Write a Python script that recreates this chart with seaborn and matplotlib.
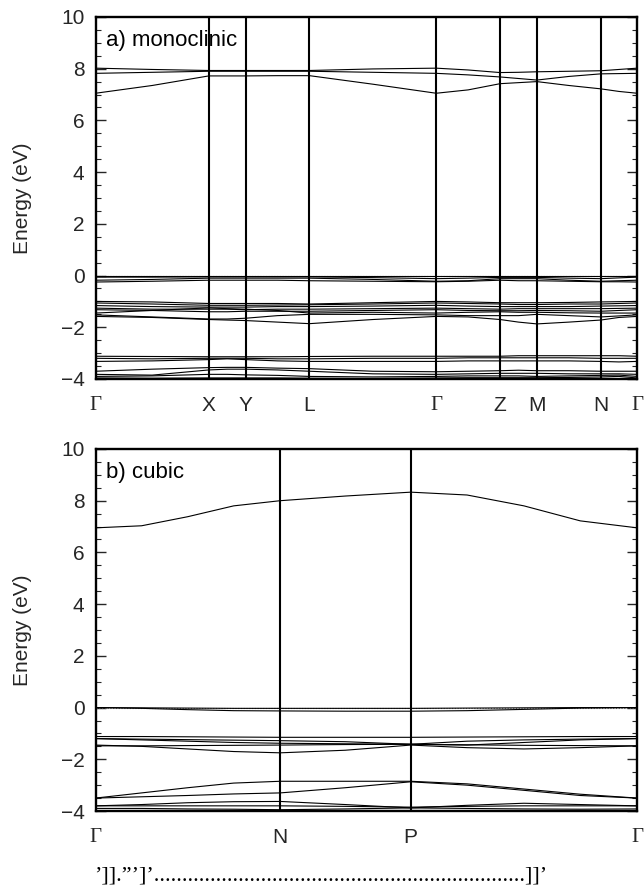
import numpy as np
import pandas as pd
import matplotlib
matplotlib.use("Agg")
import matplotlib.pyplot as plt
import seaborn as sns
from matplotlib.ticker import MultipleLocator

# ---------------- data ----------------
# panel a) monoclinic : k-path positions (high-symmetry points + midpoints)
mono_k = [0.0, 0.1045, 0.209, 0.243, 0.277, 0.336, 0.395, 0.512, 0.629,
          0.688, 0.747, 0.781, 0.815, 0.874, 0.933, 0.9665, 1.0]
mono_ticks = [0.0, 0.209, 0.277, 0.395, 0.629, 0.747, 0.815, 0.933, 1.0]
mono_labels = ["Γ", "X", "Y", "L", "Γ", "Z", "M", "N", "Γ"]

mono_c1 = [7.05, 7.35, 7.72, 7.72, 7.72, 7.73, 7.73, 7.40, 7.05, 7.18, 7.42, 7.46, 7.50, 7.35, 7.22, 7.12, 7.05]
mono_c2 = [7.82, 7.86, 7.90, 7.90, 7.90, 7.90, 7.90, 7.86, 7.82, 7.76, 7.68, 7.62, 7.56, 7.70, 7.80, 7.81, 7.82]
mono_c3 = [8.02, 7.97, 7.93, 7.93, 7.93, 7.93, 7.93, 7.99, 8.02, 7.95, 7.85, 7.86, 7.88, 7.90, 7.92, 7.97, 8.02]

mono_v01 = [-0.02, -0.02, -0.02, -0.02, -0.02, -0.02, -0.02, -0.02, -0.02, -0.02, -0.02, -0.02, -0.02, -0.02, -0.02, -0.02, -0.02]
mono_v02 = [-0.06, -0.06, -0.05, -0.05, -0.05, -0.05, -0.05, -0.08, -0.12, -0.10, -0.07, -0.07, -0.07, -0.10, -0.12, -0.09, -0.06]
mono_v03 = [-0.18, -0.15, -0.10, -0.10, -0.10, -0.10, -0.10, -0.15, -0.22, -0.20, -0.12, -0.12, -0.12, -0.18, -0.22, -0.20, -0.18]
mono_v04 = [-0.25, -0.22, -0.18, -0.18, -0.18, -0.18, -0.20, -0.22, -0.24, -0.22, -0.18, -0.20, -0.20, -0.22, -0.24, -0.24, -0.25]

mono_v05 = [-1.00, -1.02, -1.08, -1.08, -1.08, -1.08, -1.10, -1.05, -1.00, -1.02, -1.05, -1.05, -1.05, -1.04, -1.02, -1.01, -1.00]
mono_v06 = [-1.06, -1.10, -1.15, -1.15, -1.15, -1.14, -1.13, -1.10, -1.06, -1.08, -1.10, -1.12, -1.12, -1.10, -1.10, -1.08, -1.06]
mono_v07 = [-1.16, -1.20, -1.22, -1.22, -1.22, -1.20, -1.20, -1.18, -1.15, -1.18, -1.20, -1.20, -1.20, -1.20, -1.18, -1.17, -1.16]
mono_v08 = [-1.26, -1.30, -1.30, -1.30, -1.32, -1.30, -1.30, -1.28, -1.26, -1.28, -1.30, -1.28, -1.28, -1.28, -1.28, -1.27, -1.26]
mono_v09 = [-1.32, -1.35, -1.40, -1.40, -1.38, -1.38, -1.38, -1.35, -1.32, -1.35, -1.36, -1.36, -1.35, -1.36, -1.38, -1.35, -1.32]
mono_v10 = [-1.45, -1.35, -1.25, -1.28, -1.30, -1.35, -1.45, -1.42, -1.45, -1.42, -1.40, -1.42, -1.42, -1.44, -1.45, -1.45, -1.45]
mono_v11 = [-1.52, -1.60, -1.68, -1.68, -1.65, -1.55, -1.50, -1.50, -1.52, -1.55, -1.55, -1.55, -1.50, -1.55, -1.60, -1.56, -1.52]
mono_v12 = [-1.58, -1.62, -1.70, -1.72, -1.74, -1.80, -1.86, -1.70, -1.58, -1.60, -1.70, -1.80, -1.87, -1.80, -1.72, -1.62, -1.58]

mono_v13 = [-3.12, -3.13, -3.14, -3.14, -3.14, -3.14, -3.13, -3.12, -3.12, -3.12, -3.12, -3.10, -3.10, -3.10, -3.10, -3.10, -3.12]
mono_v14 = [-3.20, -3.22, -3.20, -3.20, -3.20, -3.22, -3.22, -3.20, -3.20, -3.18, -3.18, -3.18, -3.18, -3.18, -3.20, -3.20, -3.20]
mono_v15 = [-3.32, -3.30, -3.25, -3.22, -3.25, -3.30, -3.32, -3.32, -3.32, -3.30, -3.30, -3.30, -3.30, -3.30, -3.32, -3.34, -3.32]

mono_v16 = [-3.70, -3.62, -3.56, -3.55, -3.55, -3.58, -3.60, -3.70, -3.72, -3.70, -3.68, -3.66, -3.68, -3.68, -3.70, -3.70, -3.70]
mono_v17 = [-3.82, -3.85, -3.65, -3.62, -3.62, -3.65, -3.70, -3.80, -3.82, -3.80, -3.78, -3.78, -3.78, -3.80, -3.80, -3.80, -3.82]
mono_v18 = [-3.90, -3.88, -3.82, -3.82, -3.84, -3.86, -3.90, -3.92, -3.90, -3.88, -3.88, -3.88, -3.90, -3.88, -3.86, -3.85, -3.90]
mono_v19 = [-3.96, -3.97, -3.96, -3.96, -3.96, -3.96, -3.97, -3.98, -3.96, -3.95, -3.95, -3.95, -3.95, -3.94, -3.92, -3.90, -3.96]

mono_bands = [mono_c1, mono_c2, mono_c3, mono_v01, mono_v02, mono_v03, mono_v04,
              mono_v05, mono_v06, mono_v07, mono_v08, mono_v09, mono_v10, mono_v11,
              mono_v12, mono_v13, mono_v14, mono_v15, mono_v16, mono_v17, mono_v18, mono_v19]

# panel b) cubic
cub_k = [0.0, 0.085, 0.17, 0.255, 0.341, 0.461, 0.582, 0.686, 0.791, 0.895, 1.0]
cub_ticks = [0.0, 0.341, 0.582, 1.0]
cub_labels = ["Γ", "N", "P", "Γ"]

cub_c1 = [6.95, 7.03, 7.38, 7.80, 8.00, 8.18, 8.33, 8.22, 7.80, 7.22, 6.95]
cub_v01 = [0.00, -0.01, -0.02, -0.03, -0.03, -0.03, -0.03, -0.02, -0.01, 0.00, 0.00]
cub_v02 = [0.00, -0.03, -0.08, -0.12, -0.13, -0.14, -0.14, -0.12, -0.07, -0.02, 0.00]
cub_v03 = [-1.12, -1.12, -1.13, -1.14, -1.15, -1.15, -1.15, -1.14, -1.13, -1.12, -1.12]
cub_v04 = [-1.20, -1.22, -1.24, -1.26, -1.28, -1.32, -1.42, -1.30, -1.25, -1.22, -1.20]
cub_v05 = [-1.20, -1.25, -1.30, -1.35, -1.38, -1.40, -1.42, -1.45, -1.35, -1.25, -1.20]
cub_v06 = [-1.45, -1.50, -1.60, -1.70, -1.75, -1.65, -1.45, -1.55, -1.60, -1.55, -1.48]
cub_v07 = [-1.48, -1.48, -1.47, -1.46, -1.45, -1.43, -1.42, -1.44, -1.46, -1.47, -1.48]
cub_v08 = [-3.50, -3.30, -3.10, -2.92, -2.85, -2.85, -2.85, -2.95, -3.15, -3.35, -3.50]
cub_v09 = [-3.50, -3.45, -3.40, -3.34, -3.30, -3.10, -2.87, -3.00, -3.20, -3.40, -3.50]
cub_v10 = [-3.80, -3.75, -3.68, -3.64, -3.63, -3.75, -3.88, -3.78, -3.70, -3.75, -3.80]
cub_v11 = [-3.80, -3.80, -3.80, -3.80, -3.80, -3.82, -3.85, -3.82, -3.80, -3.80, -3.80]
cub_v12 = [-3.90, -3.90, -3.92, -3.93, -3.95, -3.92, -3.88, -3.90, -3.92, -3.93, -3.92]
cub_v13 = [-3.97, -3.97, -3.97, -3.97, -3.97, -3.97, -3.97, -3.97, -3.97, -3.97, -3.97]

cub_bands = [cub_c1, cub_v01, cub_v02, cub_v03, cub_v04, cub_v05, cub_v06, cub_v07,
             cub_v08, cub_v09, cub_v10, cub_v11, cub_v12, cub_v13]

y_ticks = [10, 8, 6, 4, 2, 0, -2, -4]
footer = "’]].”’]’" + "." * 66 + "]]’"

# ---------------- plotting ----------------
sns.set_theme(style="ticks")
plt.rcParams["font.family"] = ["Liberation Sans", "DejaVu Sans"]


def long_form(k, bands):
    rows = []
    for b, vals in enumerate(bands):
        for kk, e in zip(k, vals):
            rows.append((b, kk, e))
    return pd.DataFrame(rows, columns=["band", "k", "E"])


fig = plt.figure(figsize=(6.44, 8.88), dpi=100)
ax_a = fig.add_axes([0.1484, 0.5732, 0.8409, 0.4077])
ax_b = fig.add_axes([0.1484, 0.0867, 0.8409, 0.4077])

panels = [(ax_a, mono_k, mono_bands, mono_ticks, mono_labels, "a) monoclinic"),
          (ax_b, cub_k, cub_bands, cub_ticks, cub_labels, "b) cubic")]

for ax, k, bands, ticks, labels, title in panels:
    df = long_form(k, bands)
    sns.lineplot(data=df, x="k", y="E", units="band", estimator=None,
                 color="black", lw=0.8, ax=ax, legend=False)
    ax.axhline(0, color="0.45", lw=0.8, ls=(0, (1, 1.5)), zorder=1)
    for t in ticks[1:-1]:
        ax.axvline(t, color="black", lw=1.5)
    ax.set_xlim(0, 1)
    ax.set_ylim(-4, 10)
    ax.set_xticks(ticks)
    ax.set_xticklabels(labels)
    for lab, txt in zip(ax.get_xticklabels(), labels):
        if txt == "Γ":
            lab.set_family(["Liberation Serif", "DejaVu Serif"])
            lab.set_fontsize(16)
    ax.set_yticks(y_ticks)
    ax.yaxis.set_minor_locator(MultipleLocator(0.5))
    ax.tick_params(axis="x", length=0, pad=12, labelsize=15)
    ax.tick_params(axis="y", which="major", direction="in", length=7, width=1,
                   left=True, right=True, labelsize=15, pad=8)
    ax.tick_params(axis="y", which="minor", direction="in", length=3.5, width=0.8,
                   left=True, right=True)
    for s in ax.spines.values():
        s.set_linewidth(1.7)
        s.set_color("black")
    ax.set_xlabel("")
    ax.set_ylabel("Energy (eV)", fontsize=15)
    ax.yaxis.set_label_coords(-0.117, 0.5)
    ax.text(0.02, 0.934, title, transform=ax.transAxes, fontsize=16,
            ha="left", va="center", color="black")

fig.text(0.146, 0.0135, footer, fontsize=16, ha="left", va="center",
         family=["Liberation Serif", "DejaVu Serif"], color="black")

fig.savefig("out.png", dpi=100)
